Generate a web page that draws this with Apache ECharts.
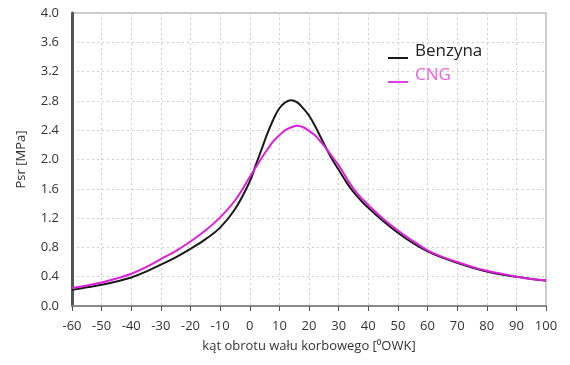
<!DOCTYPE html>
<html>
<head>
<meta charset="utf-8">
<script src="https://cdn.jsdelivr.net/npm/echarts@6/dist/echarts.min.js"></script>
<style>html,body{margin:0;padding:0;background:#fff}#c{width:570px;height:365px}</style>
</head>
<body>
<div id="c"></div>
<script>
const angles = [-60,-55,-50,-45,-40,-35,-30,-25,-20,-15,-10,-5,0,2,4,6,8,10,12,14,16,18,20,22,24,26,28,30,32,34,36,38,40,45,50,55,60,65,70,75,80,85,90,95,100];
const benzyna = [0.22,0.255,0.29,0.335,0.39,0.47,0.565,0.665,0.78,0.91,1.07,1.32,1.70,1.92,2.14,2.36,2.55,2.70,2.78,2.81,2.78,2.70,2.60,2.46,2.30,2.14,1.99,1.86,1.73,1.61,1.51,1.42,1.34,1.16,1.00,0.86,0.745,0.66,0.59,0.525,0.47,0.43,0.40,0.37,0.345];
const cng = [0.245,0.28,0.32,0.375,0.44,0.53,0.64,0.75,0.88,1.03,1.21,1.44,1.76,1.89,2.02,2.14,2.25,2.33,2.40,2.44,2.46,2.44,2.39,2.33,2.24,2.14,2.03,1.92,1.79,1.66,1.55,1.46,1.38,1.19,1.03,0.89,0.76,0.67,0.60,0.535,0.48,0.44,0.40,0.37,0.35];
const seriesNames = ['Benzyna','CNG'];
const xTitle = 'kąt obrotu wału korbowego [⁰OWK]';
const yTitle = 'Psr [MPa]';

const chart = echarts.init(document.getElementById('c'));
const font = 'Open Sans';
chart.setOption({
  animation: false,
  textStyle: {fontFamily: font},
  grid: {left: 72, right: 24, top: 13, bottom: 59, show: true, borderColor: '#9a9a9a', borderWidth: 1},
  legend: {
    orient: 'vertical', left: 383, top: 38, itemGap: 7, itemWidth: 20, itemHeight: 2,
    icon: 'rect',
    formatter: n => (n === seriesNames[0] ? '{b|' : '{c|') + n + '}',
    textStyle: {
      fontFamily: font, fontSize: 17,
      rich: {
        b: {color: '#222', fontSize: 17, fontFamily: font, padding: [0, 0, 13, 2]},
        c: {color: '#ee5fdf', fontSize: 17, fontFamily: font, padding: [0, 0, 13, 2]}
      }
    },
    data: seriesNames
  },
  xAxis: {
    type: 'value', min: -60, max: 100, interval: 10,
    name: xTitle, nameLocation: 'middle', nameGap: 34,
    nameTextStyle: {color: '#333', fontSize: 13, fontFamily: font},
    axisLine: {show: true, lineStyle: {color: '#8a8a8a', width: 2}},
    axisTick: {show: true, length: 5, lineStyle: {color: '#555'}},
    axisLabel: {color: '#333', fontSize: 13, margin: 14, fontFamily: font},
    splitLine: {show: true, lineStyle: {color: '#cfcfcf', type: [2,3], width: 1}}
  },
  yAxis: {
    type: 'value', min: 0, max: 4, interval: 0.4,
    name: yTitle, nameLocation: 'middle', nameGap: 44, nameRotate: 90,
    nameTextStyle: {color: '#333', fontSize: 13, fontFamily: font},
    axisLine: {show: true, onZero: false, lineStyle: {color: '#555', width: 3}},
    axisTick: {show: false},
    axisLabel: {color: '#333', fontSize: 13, margin: 13, fontFamily: font, formatter: v => v.toFixed(1)},
    splitLine: {show: true, lineStyle: {color: '#cfcfcf', type: [2,3], width: 1}}
  },
  series: [
    {name: seriesNames[0], type: 'line', smooth: 0.4, symbol: 'none', z: 2,
     data: angles.map((a,i) => [a, benzyna[i]]), lineStyle: {color: '#1a1a1a', width: 2}, itemStyle: {color: '#1a1a1a'}},
    {name: seriesNames[1], type: 'line', smooth: 0.4, symbol: 'none', z: 3,
     data: angles.map((a,i) => [a, cng[i]]), lineStyle: {color: '#dd1fdc', width: 2}, itemStyle: {color: '#e040e0'}}
  ]
});
</script>
</body>
</html>
